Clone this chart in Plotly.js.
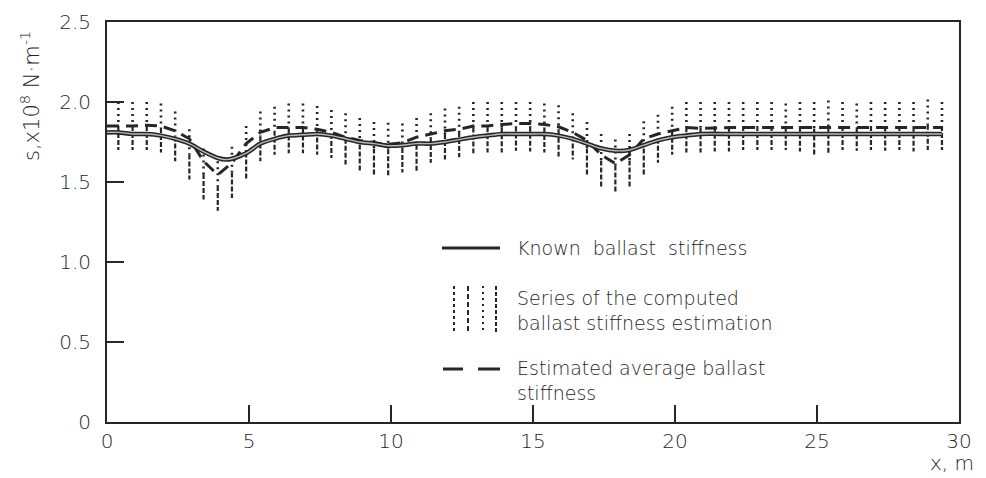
<!DOCTYPE html>
<html>
<head>
<meta charset="utf-8">
<script src="https://cdn.plot.ly/plotly-3.0.1.min.js"></script>
<style>html,body{margin:0;padding:0;background:#fff;}#chart{width:986px;height:478px;}</style>
</head>
<body>
<div id="chart"></div>
<script>
// Column positions of the computed estimation series (m)
const colX = [0.4,0.9,1.4,1.9,2.4,2.9,3.4,3.9,4.4,4.9,5.4,5.9,6.4,6.9,7.4,7.9,8.4,8.9,9.4,9.9,
  10.4,10.9,11.4,11.9,12.4,12.9,13.4,13.9,14.4,14.9,15.4,15.9,16.4,16.9,17.4,17.9,18.4,18.9,19.4,19.9,
  20.4,20.9,21.4,21.9,22.4,22.9,23.4,23.9,24.4,24.9,25.4,25.9,26.4,26.9,27.4,27.9,28.4,28.9,29.4];
// Upper and lower ends of each column (x10^8 N/m)
const colTop = [2.00,2.00,2.00,1.99,1.94,1.83,1.71,1.63,1.72,1.85,1.94,1.97,1.99,1.99,1.975,1.95,1.93,1.90,1.875,1.87,
  1.865,1.90,1.93,1.96,1.97,2.00,2.00,2.00,2.00,2.00,1.99,1.98,1.93,1.875,1.80,1.765,1.80,1.88,1.92,1.97,
  2.00,2.00,2.00,2.00,2.00,2.00,2.00,1.99,2.00,2.00,2.01,2.00,1.99,2.00,2.00,2.00,2.00,2.015,2.00];
const colBottom = [1.70,1.70,1.70,1.685,1.63,1.515,1.39,1.32,1.40,1.52,1.63,1.67,1.68,1.68,1.67,1.65,1.61,1.57,1.545,1.54,
  1.56,1.565,1.62,1.64,1.655,1.68,1.685,1.685,1.695,1.69,1.685,1.66,1.64,1.545,1.47,1.44,1.47,1.54,1.62,1.67,
  1.685,1.685,1.69,1.69,1.70,1.70,1.70,1.70,1.69,1.67,1.68,1.70,1.695,1.70,1.695,1.70,1.69,1.70,1.70];
// Known ballast stiffness
const knownX = [0,0.4,0.9,1.4,1.9,2.4,2.9,3.4,3.9,4.2,4.4,4.9,5.4,5.9,6.4,6.9,7.4,7.9,8.4,8.9,9.4,9.9,
  10.4,10.9,11.4,11.9,12.4,12.9,13.4,13.9,14.4,14.9,15.4,15.9,16.4,16.9,17.4,17.9,18.4,18.9,19.4,19.9,
  20.4,20.9,22,24,26,28,29.4];
const knownY = [1.81,1.81,1.80,1.80,1.79,1.77,1.74,1.69,1.65,1.64,1.645,1.68,1.74,1.77,1.79,1.795,1.80,1.79,1.77,1.75,1.74,1.727,
  1.73,1.74,1.74,1.75,1.765,1.78,1.79,1.80,1.80,1.80,1.80,1.79,1.77,1.74,1.71,1.695,1.70,1.73,1.76,1.78,
  1.79,1.80,1.80,1.80,1.80,1.80,1.80];
// Estimated average ballast stiffness
const avgX = [0,0.4,0.9,1.4,1.9,2.4,2.9,3.4,3.9,4.4,4.9,5.4,5.9,6.4,6.9,7.4,7.9,8.4,8.9,9.4,9.9,
  10.4,10.9,11.4,11.9,12.4,12.9,13.4,13.9,14.4,14.9,15.4,15.9,16.4,16.9,17.4,17.9,18.4,18.9,19.4,19.9,
  20.4,20.9,22,24,26,28,29.4];
const avgY = [1.85,1.85,1.85,1.855,1.85,1.82,1.77,1.63,1.545,1.62,1.74,1.81,1.84,1.84,1.84,1.83,1.81,1.78,1.76,1.745,1.735,
  1.745,1.78,1.80,1.82,1.83,1.85,1.85,1.86,1.865,1.865,1.86,1.845,1.81,1.76,1.67,1.615,1.67,1.77,1.80,1.82,
  1.84,1.835,1.84,1.84,1.84,1.84,1.84];
const xTicks = [0,5,10,15,20,25,30];
const xTickText = ['0','5','10','15','20','25','30'];
const yTicks = [0,0.5,1.0,1.5,2.0,2.5];
const yTickText = ['0','0.5','1.0','1.5','2.0','2.5'];

const ink = '#262626';
const FONT = 'DejaVu Sans, sans-serif';

// build column segments
const upX = [], upY = [], loX = [], loY = [];
for (let i = 0; i < colX.length; i++) {
  const mid = (colTop[i] + colBottom[i]) / 2;
  upX.push(colX[i], colX[i], null); upY.push(colTop[i], mid, null);
  loX.push(colX[i], colX[i], null); loY.push(mid, colBottom[i], null);
}

const traces = [
  {x: upX, y: upY, type: 'scatter', mode: 'lines', line: {color: ink, width: 2.6, dash: '2px,4px'}, hoverinfo: 'skip'},
  {x: loX, y: loY, type: 'scatter', mode: 'lines', line: {color: ink, width: 2.2, dash: '5px,2px'}, hoverinfo: 'skip'},
  {x: avgX, y: avgY, type: 'scatter', mode: 'lines', line: {color: ink, width: 3, dash: '12px,7px'}},
  {x: knownX, y: knownY, type: 'scatter', mode: 'lines', line: {color: ink, width: 4.5, shape: 'spline', smoothing: 0.8}},
  {x: knownX, y: knownY, type: 'scatter', mode: 'lines', line: {color: '#b8b8b8', width: 1.4, shape: 'spline', smoothing: 0.8}}
];

const X = px => (px - 107) / 852;
const Y = py => (422 - py) / 400;

const shapes = [
  {type: 'line', xref: 'paper', yref: 'paper', x0: X(442), x1: X(500), y0: Y(248), y1: Y(248), line: {color: ink, width: 3}},
  {type: 'line', xref: 'paper', yref: 'paper', x0: X(454), x1: X(454), y0: Y(286), y1: Y(332), line: {color: ink, width: 2, dash: '3px,3px'}},
  {type: 'line', xref: 'paper', yref: 'paper', x0: X(468), x1: X(468), y0: Y(286), y1: Y(332), line: {color: ink, width: 2, dash: '5px,3px'}},
  {type: 'line', xref: 'paper', yref: 'paper', x0: X(483), x1: X(483), y0: Y(286), y1: Y(332), line: {color: ink, width: 2, dash: '2px,4px'}},
  {type: 'line', xref: 'paper', yref: 'paper', x0: X(496), x1: X(496), y0: Y(286), y1: Y(332), line: {color: ink, width: 2, dash: '4px,2px'}},
  {type: 'line', xref: 'paper', yref: 'paper', x0: X(443), x1: X(463), y0: Y(369), y1: Y(369), line: {color: ink, width: 3}},
  {type: 'line', xref: 'paper', yref: 'paper', x0: X(478), x1: X(500), y0: Y(369), y1: Y(369), line: {color: ink, width: 3}}
];

const annFont = {family: FONT, size: 19, color: ink, weight: 300};
const annotations = [
  {xref: 'paper', yref: 'paper', x: X(515), y: Y(248), xanchor: 'left', yanchor: 'middle', showarrow: false, align: 'left',
   text: 'Known  ballast  stiffness', font: annFont},
  {xref: 'paper', yref: 'paper', x: X(515), y: Y(310), xanchor: 'left', yanchor: 'middle', showarrow: false, align: 'left',
   text: 'Series of the computed<br>ballast stiffness estimation', font: annFont},
  {xref: 'paper', yref: 'paper', x: X(515), y: Y(380), xanchor: 'left', yanchor: 'middle', showarrow: false, align: 'left',
   text: 'Estimated average ballast<br>stiffness', font: annFont},
  {xref: 'paper', yref: 'paper', x: X(30), y: Y(96), xanchor: 'center', yanchor: 'middle', showarrow: false, textangle: -90,
   text: 's,x10<sup>8</sup> N·m<sup>-1</sup>', font: {family: FONT, size: 21, color: ink, weight: 300}},
  {xref: 'paper', yref: 'paper', x: X(952), y: Y(463), xanchor: 'center', yanchor: 'middle', showarrow: false,
   text: 'x, m', font: {family: FONT, size: 20, color: ink, weight: 300}}
];

const tickFont = {family: FONT, size: 20, color: ink, weight: 300};
const layout = {
  width: 986, height: 478,
  margin: {l: 107, r: 27, t: 22, b: 56},
  paper_bgcolor: '#fff', plot_bgcolor: '#fff',
  showlegend: false,
  font: {family: FONT, size: 20, color: ink},
  xaxis: {range: [0, 30], tickvals: xTicks, ticktext: xTickText, ticks: 'inside', ticklen: 17, tickwidth: 1.5, tickcolor: ink,
    showline: true, linecolor: ink, linewidth: 2, mirror: true, showgrid: false, zeroline: false,
    tickfont: tickFont},
  yaxis: {range: [0, 2.5], tickvals: yTicks, ticktext: yTickText, ticks: 'inside', ticklen: 17, tickwidth: 1.5, tickcolor: ink,
    showline: true, linecolor: ink, linewidth: 2, mirror: true, showgrid: false, zeroline: false,
    ticklabelstandoff: 10, tickfont: tickFont},
  shapes: shapes,
  annotations: annotations
};

Plotly.newPlot('chart', traces, layout, {staticPlot: true, displayModeBar: false});
</script>
</body>
</html>
